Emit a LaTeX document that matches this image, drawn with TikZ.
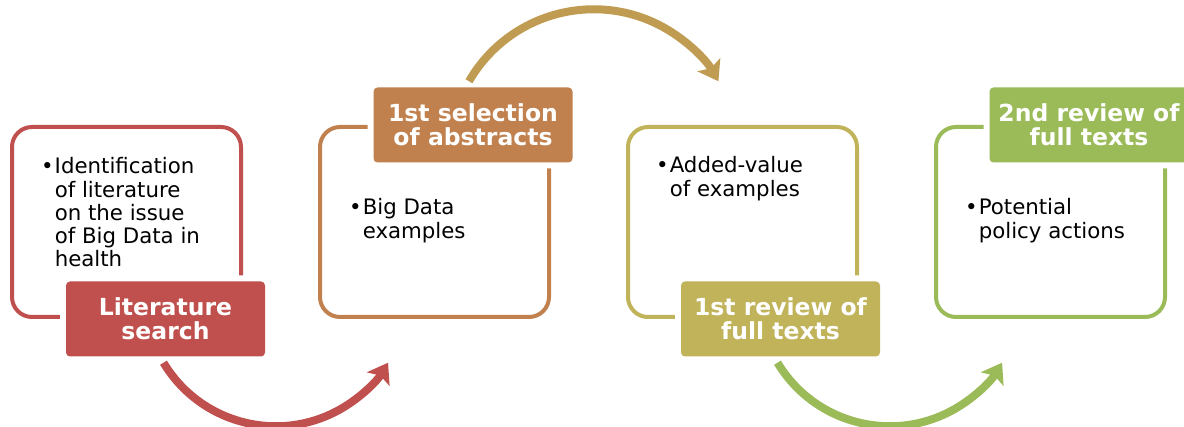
\documentclass[tikz,border=0pt]{standalone}
\usepackage{fontspec}
\setmainfont{DejaVu Sans}
\usetikzlibrary{arrows.meta,positioning}
\definecolor{boxred}{HTML}{C0504D}
\definecolor{boxorange}{HTML}{C0814F}
\definecolor{boxolive}{HTML}{C0B35A}
\definecolor{boxgreen}{HTML}{9BBB59}
\definecolor{arrowgold}{HTML}{C09C52}
\tikzset{
  body/.style={rounded corners=20pt, line width=4pt, minimum width=229pt, minimum height=190pt, inner sep=0pt},
  lab/.style={rounded corners=4pt, minimum width=199pt, minimum height=75pt, inner sep=0pt, text=white,
    align=center, font=\fontsize{23.5}{24}\selectfont\bfseries, preaction={draw=white, line width=12pt}},
  txt/.style={anchor=base west, inner sep=0pt, font=\fontsize{21.3}{23}\selectfont},
  flow/.style={line width=8pt, -{Stealth[length=19pt, width=26pt, inset=4pt]}}
}
\newcommand{\bul}[1]{\textbullet\hspace{1pt}\begin{tabular}[t]{@{}l@{}}#1\end{tabular}}
\begin{document}
\begin{tikzpicture}[x=1pt, y=1pt]
\useasboundingbox (0,0) rectangle (1184,427);
\foreach \i/\x/\col in {1/126.5/boxred, 2/434.5/boxorange, 3/742.5/boxolive, 4/1050.5/boxgreen}
  \node[body, draw=\col] (body\i) at (\x,205) {};

\node[txt] (t1) at ([shift={(31pt,-49pt)}]body1.north west) {\bul{Identification\\of literature\\on the issue\\of Big Data in\\health}};
\node[txt] (t2) at ([shift={(31pt,-90pt)}]body2.north west) {\bul{Big Data\\examples}};
\node[txt] (t3) at ([shift={(30pt,-48pt)}]body3.north west) {\bul{Added-value\\of examples}};
\node[txt] (t4) at ([shift={(31pt,-90pt)}]body4.north west) {\bul{Potential\\policy actions}};

\node[lab, fill=boxred] (lab1) at ([xshift=39pt]body1.south) {Literature\\search};
\node[lab, fill=boxorange] (lab2) at ([xshift=38.5pt]body2.north) {1st selection\\of abstracts};
\node[lab, fill=boxolive] (lab3) at ([xshift=38pt]body3.south) {1st review of\\full texts};
\node[lab, fill=boxgreen] (lab4) at ([xshift=38.5pt]body4.north) {2nd review of\\full texts};

% curved arrows between the steps
\draw[flow, boxred] ([shift={(-2pt,-6pt)}]lab1.south) arc[start angle=211, end angle=329, radius=131pt];
\draw[flow, arrowgold] ([shift={(-4pt,6pt)}]lab2.north) arc[start angle=150, end angle=30, radius=144pt];
\draw[flow, boxgreen] ([shift={(-3pt,-6pt)}]lab3.south) arc[start angle=211, end angle=329, radius=131pt];
\end{tikzpicture}
\end{document}
